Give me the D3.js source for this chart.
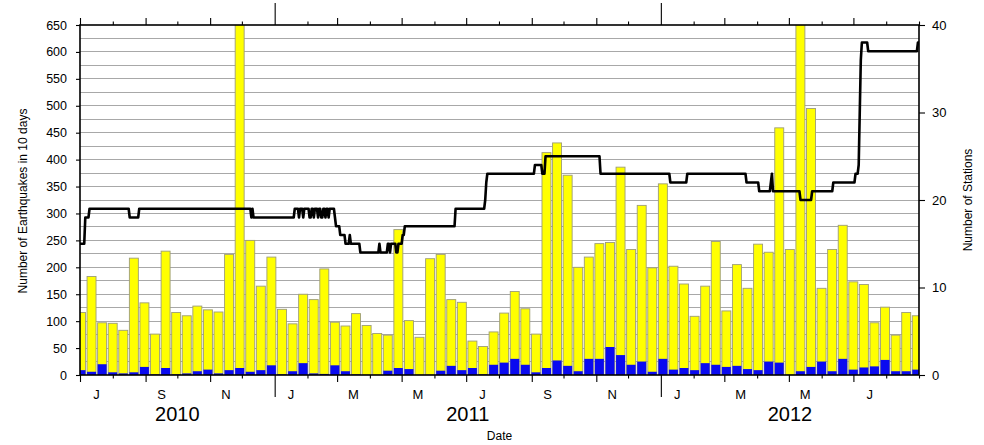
<!DOCTYPE html>
<html><head><meta charset="utf-8">
<script src="https://cdn.jsdelivr.net/npm/d3@7"></script>
<style>
html,body{margin:0;padding:0;background:#fff;}
svg{display:block;font-family:"Liberation Sans",Arial,Helvetica,sans-serif;}
</style></head><body>
<svg id="chart" width="984" height="445"></svg>
<script>
// ---------- data ----------
const binStartDate = "2010-06-27";   // first 10-day bin (partly before the axis start)
const binDays = 10;
const totalCounts = [116,183,97,96,83,217,134,76,230,116,
  110,128,121,117,224,660,250,165,219,122,
  95,150,140,197,98,91,114,92,77,74,
  270,101,70,216,224,140,135,63,53,80,
  115,155,123,76,413,431,371,200,219,244,
  246,386,233,315,199,355,202,169,109,165,
  248,119,205,161,243,228,459,233,660,495,
  161,233,278,173,168,97,126,74,116,110];
const blueCounts = [9,6,20,5,3,5,15,1,13,1,
  3,7,10,3,9,13,6,9,18,1,
  7,22,3,2,18,7,1,0,0,8,
  13,11,0,0,8,17,9,13,1,19,
  23,30,19,5,13,27,17,7,30,30,
  52,37,19,25,6,30,10,13,9,22,
  19,15,17,11,9,25,23,0,7,15,
  25,7,30,10,14,16,28,7,7,10];
const stationDates = ["2010-07-01","2010-07-06","2010-07-10","2010-08-17","2010-08-26","2010-12-10","2010-12-11","2010-12-12",
  "2011-01-20","2011-01-24","2011-01-25","2011-01-28","2011-01-29","2011-02-03","2011-02-05","2011-02-07","2011-02-08",
  "2011-02-11","2011-02-12","2011-02-14","2011-02-16","2011-02-18","2011-02-19","2011-02-21","2011-02-22",
  "2011-02-27","2011-02-28","2011-03-04","2011-03-09","2011-03-13","2011-03-14","2011-03-23",
  "2011-04-10","2011-04-11","2011-04-18","2011-04-20","2011-04-21","2011-04-26","2011-04-28","2011-05-02","2011-05-04",
  "2011-06-21","2011-07-19","2011-07-20","2011-07-21","2011-09-04","2011-09-11","2011-09-14","2011-11-05",
  "2012-01-10","2012-01-26","2012-03-22","2012-04-03","2012-04-14","2012-04-15","2012-04-16",
  "2012-05-12","2012-05-23","2012-06-12","2012-07-03","2012-07-06","2012-07-07","2012-07-08","2012-07-09",
  "2012-07-15","2012-08-31","2012-09-01"];
const stationCounts = [15,18,19,18,19,18,19,18,
  19,18,19,18,19,18,19,18,19,
  18,19,18,19,18,19,18,19,
  18,17,16,15,16,15,14,
  15,14,15,14,15,14,15,16,17,
  19,20,22,23,24,23,25,23,
  22,23,22,21,22,23,21,
  20,21,22,23,24,30,36,38,
  37,38,38];
const leftTicks = [0,50,100,150,200,250,300,350,400,450,500,550,600,650];
const rightTicks = [0,10,20,30,40];
const labelMonths = ["2010-07-01","2010-09-01","2010-11-01","2011-01-01","2011-03-01","2011-05-01","2011-07-01","2011-09-01","2011-11-01","2012-01-01","2012-03-01","2012-05-01","2012-07-01"];
const monthLabels = ["J","S","N","J","M","M","J","S","N","J","M","M","J"];
const yearLabels = ["2010","2011","2012"];
const domainStart = "2010-07-01", domainEnd = "2012-09-01";

// ---------- layout ----------
const L = 80, R = 919, T = 25, B = 375;
const parse = d3.utcParse("%Y-%m-%d");
const svg = d3.select("#chart");
const x = d3.scaleUtc().domain([parse(domainStart), parse(domainEnd)]).range([L, R]);
const yL = d3.scaleLinear().domain([0, 650]).range([B, T]);
const yR = d3.scaleLinear().domain([0, 40]).range([B, T]);

svg.append("defs").append("clipPath").attr("id","plotclip")
  .append("rect").attr("x",L).attr("y",T).attr("width",R-L).attr("height",B-T);

// gridlines every 25
const grid = svg.append("g");
d3.range(25, 650, 25).forEach(v => {
  grid.append("line").attr("x1",L).attr("x2",R).attr("y1",yL(v)).attr("y2",yL(v))
    .attr("stroke","#a8a8a8").attr("stroke-width",1).attr("shape-rendering","crispEdges");
});

// bars
const bins = totalCounts.map((v,i) => {
  const s = d3.utcDay.offset(parse(binStartDate), i*binDays);
  return {s, e: d3.utcDay.offset(s, binDays), total: v, blue: blueCounts[i]};
});
const bars = svg.append("g").attr("clip-path","url(#plotclip)");
bars.selectAll("rect.y").data(bins).join("rect")
  .attr("x", d => x(d.s) + 0.7)
  .attr("width", d => x(d.e) - x(d.s) - 1.6)
  .attr("y", d => yL(d.total))
  .attr("height", d => yL(0) - yL(d.total))
  .attr("fill","#ffff00").attr("stroke","#9d9d78").attr("stroke-width",0.9);
bars.selectAll("rect.b").data(bins).join("rect")
  .attr("x", d => x(d.s) + 0.7)
  .attr("width", d => x(d.e) - x(d.s) - 1.6)
  .attr("y", d => yL(d.blue))
  .attr("height", d => yL(0) - yL(d.blue))
  .attr("fill","#0a0af0");

// station line: daily series, each value held until the day before the next change
const st = [];
stationDates.forEach((d,i) => {
  const dt = parse(d);
  st.push({d: dt, v: stationCounts[i]});
  if (i < stationDates.length - 1) {
    const nxt = d3.utcDay.offset(parse(stationDates[i+1]), -1);
    if (nxt > dt) st.push({d: nxt, v: stationCounts[i]});
  }
});
svg.append("path").datum(st).attr("clip-path","url(#plotclip)")
  .attr("fill","none").attr("stroke","#000").attr("stroke-width",2.6).attr("stroke-linejoin","round")
  .attr("d", d3.line().x(d => x(d.d)).y(d => yR(d.v)));

// frame
svg.append("rect").attr("x",L).attr("y",T).attr("width",R-L).attr("height",B-T)
  .attr("fill","none").attr("stroke","#000").attr("stroke-width",1.6);

const styleAxis = g => {
  g.select(".domain").remove();
  g.selectAll(".tick line").attr("stroke","#000").attr("stroke-width",1.1);
  g.selectAll(".tick text").attr("fill","#000").attr("font-family","Liberation Sans, Arial, sans-serif");
};

// left axis
svg.append("g").attr("transform",`translate(${L},0)`)
  .call(d3.axisLeft(yL).tickValues(leftTicks).tickSize(4).tickPadding(9))
  .call(styleAxis).selectAll("text").attr("font-size","12.5px");
// right axis
svg.append("g").attr("transform",`translate(${R},0)`)
  .call(d3.axisRight(yR).tickValues(rightTicks).tickSize(6).tickPadding(7))
  .call(styleAxis).selectAll("text").attr("font-size","13px");

// time ticks
const months = d3.utcMonth.range(parse(domainStart), d3.utcDay.offset(parse(domainEnd),1));
const labelSet = new Set(labelMonths);
const fmt = d3.utcFormat("%Y-%m-%d");
const oddM = months.filter(m => labelSet.has(fmt(m)) && m.getUTCMonth() !== 0);
const evenM = months.filter(m => !labelSet.has(fmt(m)));
const years = months.filter(m => m.getUTCMonth() === 0);
const tickSets = [[oddM,7],[evenM,3.5],[years,22]];
tickSets.forEach(([vals, len]) => {
  svg.append("g").attr("transform",`translate(0,${B})`)
    .call(d3.axisBottom(x).tickValues(vals).tickSize(len).tickFormat(""))
    .call(styleAxis);
  svg.append("g").attr("transform",`translate(0,${T})`)
    .call(d3.axisTop(x).tickValues(vals).tickSize(len).tickFormat(""))
    .call(styleAxis);
});

// month labels (centered in month)
labelMonths.forEach((m,i) => {
  const s = parse(m), e = d3.utcMonth.offset(s,1);
  svg.append("text").attr("x",(x(s)+x(e))/2).attr("y",399)
    .attr("text-anchor","middle").attr("font-size","13px").attr("fill","#000").text(monthLabels[i]);
});
// year labels
yearLabels.forEach(yr => {
  const s = d3.max([parse(yr+"-01-01"), parse(domainStart)]);
  const e = d3.min([parse((+yr+1)+"-01-01"), parse(domainEnd)]);
  svg.append("text").attr("x",(x(s)+x(e))/2).attr("y",421)
    .attr("text-anchor","middle").attr("font-size","20px").attr("fill","#000").text(yr);
});

// axis titles
svg.append("text").attr("x",(L+R)/2).attr("y",440).attr("text-anchor","middle")
  .attr("font-size","12px").text("Date");
svg.append("text").attr("transform","translate(27,201) rotate(-90)").attr("text-anchor","middle")
  .attr("font-size","12px").text("Number of Earthquakes in 10 days");
svg.append("text").attr("transform","translate(972,200) rotate(-90)").attr("text-anchor","middle")
  .attr("font-size","12px").text("Number of Stations");
</script>
</body></html>
